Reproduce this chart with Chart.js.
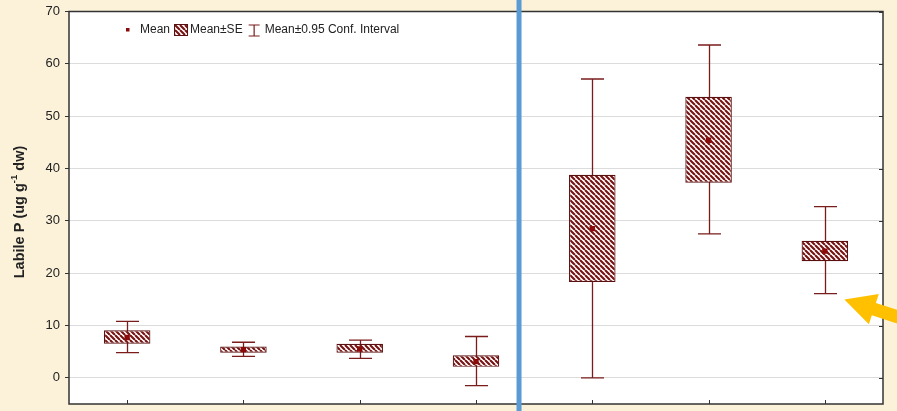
<!DOCTYPE html>
<html>
<head>
<meta charset="utf-8">
<script src="https://cdn.jsdelivr.net/npm/chart.js@4.4.1/dist/chart.umd.min.js"></script>
<style>
  html, body { margin: 0; padding: 0; background: #fcf2da; }
  #wrap { width: 897px; height: 411px; position: relative; }
</style>
</head>
<body>
<div id="wrap"><canvas id="c" width="897" height="411"></canvas></div>
<script>
// Sites / treatments along the x axis
const categories = ['S1', 'S2', 'S3', 'S4', 'S5', 'S6', 'S7'];
// Mean labile P per group
const means  = [7.7, 5.4, 5.5, 3.1, 28.5, 45.4, 24.2];
// Mean ± SE
const seLow  = [6.5, 4.8, 4.8, 2.1, 18.3, 37.3, 22.3];
const seHigh = [9.1, 6.0, 6.5, 4.3, 38.8, 53.7, 26.2];
// Mean ± 0.95 confidence interval
const ciLow  = [4.8, 4.1, 3.7, -1.5, 0.0, 27.5, 16.1];
const ciHigh = [10.8, 6.8, 7.2, 7.9, 57.1, 63.6, 32.7];
// Axis
const yTicks = [0, 10, 20, 30, 40, 50, 60, 70];
const yMin = -5, yMax = 70;
const yTitleParts = ['Labile P (ug g', '-1', ' dw)'];
const legendLabels = ['Mean', 'Mean±SE', 'Mean±0.95 Conf. Interval'];
// Divider between the two groups of samples (in category units)
const DIVIDER_AT = 3.37;

const MAROON = '#7a1c1c';
const FONT = 'Arial, "Liberation Sans", sans-serif';

function hatchPattern(ctx) {
  const s = 5;
  const c = document.createElement('canvas');
  c.width = s; c.height = s;
  const g = c.getContext('2d');
  g.fillStyle = '#ffffff';
  g.fillRect(0, 0, s, s);
  g.strokeStyle = '#761414';
  g.lineWidth = 2.1;
  g.beginPath();
  for (const k of [-s, 0, s]) {
    g.moveTo(k, 0);
    g.lineTo(k + s, s);
  }
  g.stroke();
  return ctx.createPattern(c, 'repeat');
}

const canvas = document.getElementById('c');
const ctx0 = canvas.getContext('2d');
const hatch = hatchPattern(ctx0);

const backgroundPlugin = {
  id: 'bg',
  beforeDraw(chart) {
    const { ctx, chartArea: a } = chart;
    ctx.save();
    ctx.fillStyle = '#fcf2da';
    ctx.fillRect(0, 0, chart.width, chart.height);
    ctx.fillStyle = '#ffffff';
    ctx.fillRect(a.left, a.top, a.right - a.left, a.bottom - a.top);
    ctx.restore();
  }
};

const whiskerPlugin = {
  id: 'whiskers',
  beforeDatasetsDraw(chart) {
    const { ctx, scales: { x, y } } = chart;
    ctx.save();
    ctx.strokeStyle = MAROON;
    ctx.lineWidth = 1.3;
    const half = 11.5;
    categories.forEach((_, i) => {
      const px = Math.round(x.getPixelForValue(i)) + 0.5;
      const top = y.getPixelForValue(ciHigh[i]);
      const bot = y.getPixelForValue(ciLow[i]);
      ctx.beginPath();
      ctx.moveTo(px, top); ctx.lineTo(px, bot);
      ctx.moveTo(px - half, top); ctx.lineTo(px + half, top);
      ctx.moveTo(px - half, bot); ctx.lineTo(px + half, bot);
      ctx.stroke();
    });
    ctx.restore();
  }
};

const framePlugin = {
  id: 'frame',
  afterDatasetsDraw(chart) {
    const { ctx, chartArea: a, scales: { x, y } } = chart;
    ctx.save();
    ctx.strokeStyle = '#333333';
    ctx.lineWidth = 1.5;
    ctx.strokeRect(a.left, a.top, a.right - a.left, a.bottom - a.top);
    ctx.lineWidth = 1;
    ctx.beginPath();
    yTicks.forEach(v => {
      const py = Math.round(y.getPixelForValue(v)) + 0.5;
      ctx.moveTo(a.right - 4, py); ctx.lineTo(a.right, py);
    });
    categories.forEach((_, i) => {
      const px = Math.round(x.getPixelForValue(i)) + 0.5;
      ctx.moveTo(px, a.bottom - 4); ctx.lineTo(px, a.bottom);
    });
    ctx.stroke();
    ctx.restore();
  }
};

const annotatePlugin = {
  id: 'annotate',
  afterDraw(chart) {
    const { ctx, scales: { x, y } } = chart;
    ctx.save();

    // y-axis title with superscript
    ctx.translate(20, 212);
    ctx.rotate(-Math.PI / 2);
    ctx.fillStyle = '#222222';
    ctx.textBaseline = 'middle';
    ctx.textAlign = 'left';
    const big = 'bold 14.5px ' + FONT, small = 'bold 9.5px ' + FONT;
    ctx.font = big; const w1 = ctx.measureText(yTitleParts[0]).width;
    const w3 = ctx.measureText(yTitleParts[2]).width;
    ctx.font = small; const w2 = ctx.measureText(yTitleParts[1]).width;
    let sx = -(w1 + w2 + w3) / 2;
    ctx.font = big; ctx.fillText(yTitleParts[0], sx, 0); sx += w1;
    ctx.font = small; ctx.fillText(yTitleParts[1], sx, -6); sx += w2;
    ctx.font = big; ctx.fillText(yTitleParts[2], sx, 0);
    ctx.restore();

    // legend
    ctx.save();
    ctx.font = '12px ' + FONT;
    ctx.fillStyle = '#222222';
    ctx.textBaseline = 'middle';
    const ly = 30;
    let lx = 126;
    ctx.fillStyle = '#8b0a0a';
    ctx.fillRect(lx, ly - 2, 3.5, 3.5);
    lx += 14;
    ctx.fillStyle = '#222222';
    ctx.fillText(legendLabels[0], lx, ly);
    lx += ctx.measureText(legendLabels[0]).width + 4;
    ctx.fillStyle = hatch;
    ctx.fillRect(lx, ly - 6, 14, 12);
    ctx.strokeStyle = '#5a1010';
    ctx.lineWidth = 1;
    ctx.strokeRect(lx + 0.5, ly - 5.5, 13, 11);
    lx += 16;
    ctx.fillStyle = '#222222';
    ctx.fillText(legendLabels[1], lx, ly);
    lx += ctx.measureText(legendLabels[1]).width + 6;
    ctx.strokeStyle = MAROON;
    ctx.lineWidth = 1.2;
    ctx.beginPath();
    ctx.moveTo(lx + 5.5, ly - 5); ctx.lineTo(lx + 5.5, ly + 6);
    ctx.moveTo(lx, ly - 5); ctx.lineTo(lx + 11, ly - 5);
    ctx.moveTo(lx, ly + 6); ctx.lineTo(lx + 11, ly + 6);
    ctx.stroke();
    lx += 16;
    ctx.fillText(legendLabels[2], lx, ly);
    ctx.restore();

    // divider between the two sample groups
    ctx.save();
    const dx = x.getPixelForValue(DIVIDER_AT);
    ctx.fillStyle = '#5b9bd5';
    ctx.fillRect(dx - 2.5, 0, 5, chart.height);
    ctx.restore();

    // arrow pointing at the last group's lower CI limit
    ctx.save();
    const last = categories.length - 1;
    const tipX = x.getPixelForValue(last) + 11.5 + 8;
    const tipY = y.getPixelForValue(ciLow[last]) + 6;
    const th = 18 * Math.PI / 180;
    const d = [Math.cos(th), Math.sin(th)];
    const n = [-Math.sin(th), Math.cos(th)];
    const P = (t, s) => [tipX + d[0] * t + n[0] * s, tipY + d[1] * t + n[1] * s];
    const pts = [P(0, 0), P(31, 16), P(31, 6.5), P(100, 6.5), P(100, -6.5), P(31, -6.5), P(31, -16)];
    ctx.fillStyle = '#ffc000';
    ctx.beginPath();
    ctx.moveTo(pts[0][0], pts[0][1]);
    pts.slice(1).forEach(p => ctx.lineTo(p[0], p[1]));
    ctx.closePath();
    ctx.fill();
    ctx.restore();
  }
};

new Chart(canvas, {
  type: 'bar',
  data: {
    labels: categories,
    datasets: [
      {
        type: 'line',
        label: legendLabels[0],
        data: means,
        showLine: false,
        pointStyle: 'rect',
        pointRadius: 3.8,
        pointBackgroundColor: '#8b0a0a',
        pointBorderWidth: 0,
        order: 0
      },
      {
        type: 'bar',
        label: legendLabels[1],
        data: categories.map((_, i) => [seLow[i], seHigh[i]]),
        backgroundColor: hatch,
        borderColor: '#5a1010',
        borderWidth: 1.2,
        borderSkipped: false,
        barPercentage: 0.4,
        categoryPercentage: 1,
        order: 1
      }
    ]
  },
  options: {
    responsive: false,
    devicePixelRatio: 1,
    animation: false,
    layout: { padding: { left: 0, right: 14, top: 11.5, bottom: 7 } },
    plugins: { legend: { display: false }, tooltip: { enabled: false } },
    scales: {
      x: {
        display: false,
        offset: true
      },
      y: {
        min: yMin,
        max: yMax,
        afterBuildTicks(s) { s.ticks = yTicks.map(v => ({ value: v })); },
        afterFit(s) {
          s.width = 69;
          s.paddingTop = 0;
          s.paddingBottom = 0;
        },
        ticks: {
          font: { family: FONT, size: 13 },
          color: '#222222',
          padding: 5
        },
        grid: {
          color: c => (c.tick && c.tick.value === yMax) ? 'rgba(0,0,0,0)' : '#dcdcdc',
          tickColor: '#333333',
          tickLength: 4,
          lineWidth: 1
        },
        border: { display: false }
      }
    }
  },
  plugins: [backgroundPlugin, whiskerPlugin, framePlugin, annotatePlugin]
});
</script>
</body>
</html>
